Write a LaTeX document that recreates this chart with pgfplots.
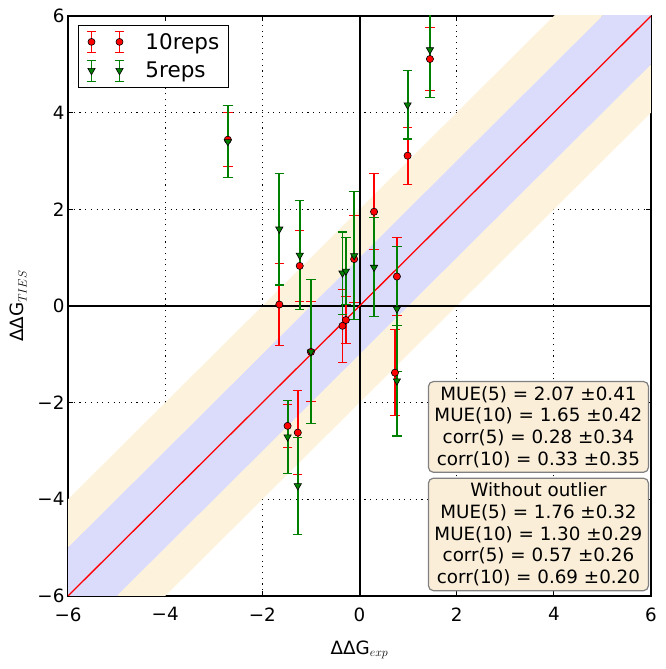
\documentclass[border=0pt]{standalone}
\usepackage{pgfplots}
\pgfplotsset{compat=1.18}
\usepackage{pgfplotstable}
\usepackage{fontspec}
\setmainfont{DejaVu Sans}
\definecolor{mplgreen}{rgb}{0,0.5,0}
\definecolor{boxfill}{RGB}{250,238,217}
\definecolor{boxedge}{RGB}{128,128,128}
\definecolor{bandblue}{RGB}{219,219,252}
\definecolor{bandorange}{RGB}{253,242,219}

\pgfplotstableread{
x10 y10 e10 x5 y5 e5
-2.71 3.44 0.56 -2.71 3.40 0.745
-1.65 0.03 0.84 -1.65 1.59 1.155
-1.23 0.83 0.74 -1.23 1.05 1.125
-1.00 -0.95 1.035 -1.00 -0.95 1.49
-0.35 -0.41 0.75 -0.35 0.68 0.85
-0.28 -0.29 0.49 -0.28 0.72 0.69
-0.11 0.97 0.90 -0.11 1.04 1.32
0.30 1.95 0.785 0.30 0.80 1.025
0.77 0.61 0.81 0.77 -0.06 1.29
0.73 -1.38 0.89 0.77 -1.55 1.14
0.99 3.11 0.59 0.99 4.16 0.705
1.45 5.11 0.66 1.45 5.30 0.98
-1.48 -2.48 0.45 -1.48 -2.71 0.75
-1.27 -2.62 0.875 -1.27 -3.72 1.00
}\data

\pgfplotsset{
  errlegR/.style={legend image code/.code={
    \foreach \xx in {0pt,28pt}{
      \draw[red, line width=1.8pt] (\xx,-10.5pt) -- (\xx,10.5pt);
      \draw[red, line width=1pt] (\xx-4.5pt,-10.5pt) -- (\xx+4.5pt,-10.5pt);
      \draw[red, line width=1pt] (\xx-4.5pt,10.5pt) -- (\xx+4.5pt,10.5pt);
      \fill[red, draw=black, line width=0.6pt] (\xx,0pt) circle (3.5pt);
    }}},
  errlegG/.style={legend image code/.code={
    \foreach \xx in {0pt,28pt}{
      \draw[mplgreen, line width=1.8pt] (\xx,-10.5pt) -- (\xx,10.5pt);
      \draw[mplgreen, line width=1pt] (\xx-4.5pt,-10.5pt) -- (\xx+4.5pt,-10.5pt);
      \draw[mplgreen, line width=1pt] (\xx-4.5pt,10.5pt) -- (\xx+4.5pt,10.5pt);
      \fill[mplgreen, draw=black, line width=0.6pt] (\xx-3.7pt,2.3pt) -- (\xx+3.7pt,2.3pt) -- (\xx,-4.1pt) -- cycle;
    }}},
}

\begin{document}
\begin{tikzpicture}
\useasboundingbox (0,0) rectangle (666pt,669pt);
\begin{axis}[
  at={(68pt,73pt)}, anchor=south west,
  width=583pt, height=580pt, scale only axis,
  xmin=-6, xmax=6, ymin=-6, ymax=6,
  xtick={-6,-4,-2,0,2,4,6}, ytick={-6,-4,-2,0,2,4,6},
  xticklabels={−6,−4,−2,0,2,4,6},
  yticklabels={−6,−4,−2,0,2,4,6},
  tick label style={font=\fontsize{18.3}{22}\selectfont},
  xticklabel style={yshift=-8pt},
  tick align=inside, major tick length=5pt,
  tick style={black, line width=1pt},
  axis line style={black, line width=1.2pt},
  grid=major,
  major grid style={black, line width=1.1pt, dash pattern=on 1.1pt off 4.6pt},
  xlabel={ΔΔG$_{exp}$},
  ylabel={ΔΔG$_{TIES}$},
  label style={font=\fontsize{18.3}{22}\selectfont},
  xlabel style={at={(axis description cs:0.5,-0.093)}, anchor=center},
  ylabel style={at={(axis description cs:-0.085,0.5)}, anchor=center},
  legend style={at={(axis description cs:0.01715,0.9845)}, anchor=north west,
    draw=black, line width=1pt, fill=white, inner xsep=8pt, inner ysep=5pt,
    row sep=6pt, font=\fontsize{21.5}{25}\selectfont,
    nodes={inner sep=1pt}},
  legend cell align=left,
  /tikz/every odd column/.append style={column sep=20pt},
]
% bands
\addplot[forget plot, draw=none, fill=bandorange] coordinates {(-6,-5) (6,7) (6,8) (-6,-4)} -- cycle;
\addplot[forget plot, draw=none, fill=bandorange] coordinates {(-6,-7) (6,5) (6,4) (-6,-8)} -- cycle;
\addplot[forget plot, draw=none, fill=bandblue] coordinates {(-6,-7) (6,5) (6,7) (-6,-5)} -- cycle;
% zero lines
\addplot[forget plot, black, line width=2.2pt] coordinates {(0.01,-6) (0.01,6)};
\addplot[forget plot, black, line width=1.6pt] coordinates {(-6,0) (6,0)};
% diagonal
\addplot[forget plot, red, line width=1.3pt] coordinates {(-6,-6) (6,6)};
% red error bars
\addplot[forget plot, draw=none, mark=none,
  error bars/.cd, y dir=both, y explicit,
  error bar style={draw=red, line width=1.9pt, solid},
  error mark options={draw=red, line width=1.1pt, mark size=4.7pt, rotate=90, solid}]
  table[x=x10, y=y10, y error=e10] {\data};
% green error bars
\addplot[forget plot, draw=none, mark=none,
  error bars/.cd, y dir=both, y explicit,
  error bar style={draw=mplgreen, line width=1.9pt, solid},
  error mark options={draw=mplgreen, line width=1.1pt, mark size=4.7pt, rotate=90, solid}]
  table[x=x5, y=y5, y error=e5] {\data};
% markers on top
\addplot[forget plot, only marks, mark=*, mark size=3.6pt, mark options={fill=red, draw=black, line width=0.6pt}]
  table[x=x10, y=y10] {\data};
\addplot[forget plot, only marks, mark=triangle*, mark size=4.2pt, mark options={fill=mplgreen, draw=black, line width=0.6pt, rotate=180}]
  table[x=x5, y=y5] {\data};
% legend
\addlegendimage{errlegR}
\addlegendentry{10reps}
\addlegendimage{errlegG}
\addlegendentry{5reps}
% text boxes
\node[anchor=north east, draw=boxedge, line width=1.2pt, fill=boxfill, rounded corners=5pt,
  align=center, inner xsep=4pt, inner ysep=4.7pt, minimum width=220pt,
  font=\fontsize{18.3}{21.7}\selectfont]
  at (axis cs:5.96,-1.55) {MUE(5) = 2.07 ±0.41\\MUE(10) = 1.65 ±0.42\\corr(5) = 0.28 ±0.34\\corr(10) = 0.33 ±0.35};
\node[anchor=north east, draw=boxedge, line width=1.2pt, fill=boxfill, rounded corners=5pt,
  align=center, inner xsep=4pt, inner ysep=4.7pt, minimum width=220pt,
  font=\fontsize{18.3}{21.7}\selectfont]
  at (axis cs:5.96,-3.55) {Without outlier\\MUE(5) = 1.76 ±0.32\\MUE(10) = 1.30 ±0.29\\corr(5) = 0.57 ±0.26\\corr(10) = 0.69 ±0.20};
\end{axis}
\end{tikzpicture}
\end{document}
